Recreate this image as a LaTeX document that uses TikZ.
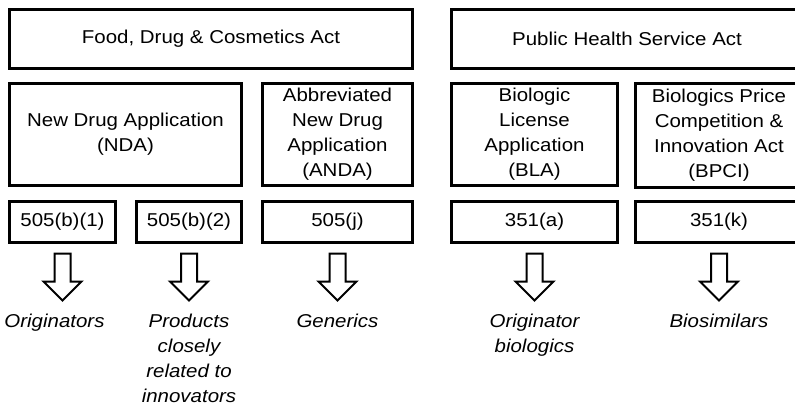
\documentclass[tikz,border=0pt]{standalone}
\usepackage{fontspec}
\setmainfont[FakeStretch=1.1]{Liberation Sans}
\usetikzlibrary{positioning,shapes.arrows}

\begin{document}
\begin{tikzpicture}[x=1pt, y=-1pt,
    box/.style={draw, line width=2.8pt, align=center, inner sep=0pt, font=\fontsize{18.6}{25}\selectfont},
    hollow/.style={draw, line width=2pt, single arrow, shape border rotate=270, single arrow head extend=11pt, single arrow tip angle=90, inner sep=7pt, minimum height=47pt},
    outcome/.style={align=center, inner sep=0pt, font=\fontsize{18.6}{25}\selectfont\itshape},
    node distance=12pt
  ]
  \useasboundingbox (0,0) rectangle (795,408);

  % acts
  \node[box, minimum width=403pt, minimum height=59pt] (fdc) at (211,39) {Food, Drug \& Cosmetics Act};
  \node[box, minimum width=351pt, minimum height=59pt] (phs) at (627,39) {Public Health Service Act};

  % applications
  \node[box, minimum width=232pt, minimum height=102pt, below right=12pt and 0pt of fdc.south west] (nda) {New Drug Application\\(NDA)};
  \node[box, minimum width=150pt, minimum height=102pt, below left=12pt and 0pt of fdc.south east] (anda) {Abbreviated\\New Drug\\Application\\(ANDA)};
  \node[box, minimum width=166pt, minimum height=102pt, below right=12pt and 0pt of phs.south west] (bla) {Biologic\\License\\Application\\(BLA)};
  \node[box, minimum width=167pt, minimum height=104pt, below left=12pt and 0pt of phs.south east] (bpci) {Biologics Price\\Competition \&\\Innovation Act\\(BPCI)};

  % sections
  \node[box, minimum width=106pt, minimum height=41pt, below right=13pt and 0pt of nda.south west] (b1) {505(b)(1)};
  \node[box, minimum width=105pt, minimum height=41pt, below left=13pt and 0pt of nda.south east] (b2) {505(b)(2)};
  \node[box, minimum width=150pt, minimum height=41pt, below=13pt of anda] (j) {505(j)};
  \node[box, minimum width=166pt, minimum height=41pt, below=13pt of bla] (a) {351(a)};
  \node[box, minimum width=167pt, minimum height=41pt, below=11pt of bpci] (k) {351(k)};

  % arrows
  \node[hollow, below=9pt of b1] (h1) {};
  \node[hollow, below=9pt of b2] (h2) {};
  \node[hollow, below=9pt of j] (hj) {};
  \node[hollow, below=9pt of a] (ha) {};
  \node[hollow, below=9pt of k] (hk) {};

  % products
  \node[outcome, below=12pt of h1, xshift=-8pt] (orig) {Originators};
  \node[outcome, below=12pt of h2] (close) {Products\\closely\\related to\\innovators};
  \node[outcome, below=12pt of hj] (gen) {Generics};
  \node[outcome, below=12pt of ha] (origbio) {Originator\\biologics};
  \node[outcome, below=12pt of hk] (bios) {Biosimilars};
\end{tikzpicture}
\end{document}
